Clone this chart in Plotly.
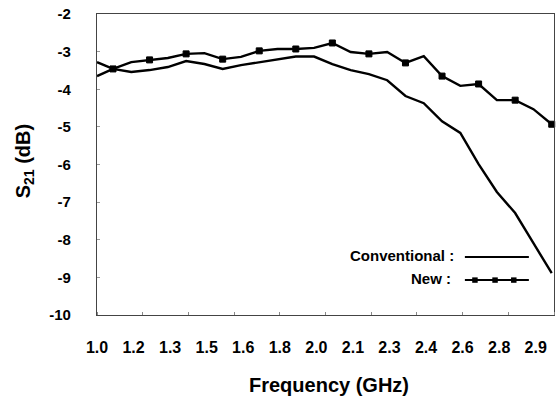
import plotly.graph_objects as go

# ---- data ----
freq = [1.00, 1.07, 1.15, 1.23, 1.31, 1.39, 1.47, 1.55, 1.63, 1.71, 1.79, 1.87, 1.95,
        2.03, 2.11, 2.19, 2.27, 2.35, 2.43, 2.51, 2.59, 2.67, 2.75, 2.83, 2.91, 2.99]
conventional = [-3.28, -3.46, -3.54, -3.49, -3.41, -3.25, -3.33, -3.46, -3.36, -3.28,
                -3.20, -3.13, -3.13, -3.33, -3.49, -3.60, -3.76, -4.18, -4.37, -4.85,
                -5.16, -5.99, -6.73, -7.29, -8.09, -8.89]
new = [-3.65, -3.46, -3.28, -3.22, -3.17, -3.06, -3.04, -3.20, -3.14, -2.98,
       -2.93, -2.93, -2.90, -2.77, -3.01, -3.06, -3.01, -3.30, -3.12, -3.65,
       -3.91, -3.86, -4.29, -4.29, -4.53, -4.93]
# markers drawn on every other sample of the "New" curve
new_marker_size = [0 if i % 2 == 0 else 6 for i in range(len(freq))]
new_marker_line = [0 if i % 2 == 0 else 1 for i in range(len(freq))]

x_tickvals = [1.00, 1.16, 1.32, 1.48, 1.64, 1.80, 1.96, 2.12, 2.28, 2.44, 2.60, 2.76, 2.92]
x_ticktext = ["1.0", "1.2", "1.3", "1.5", "1.6", "1.8", "2.0", "2.1", "2.3", "2.4", "2.6", "2.8", "2.9"]
y_tickvals = [-2, -3, -4, -5, -6, -7, -8, -9, -10]
y_ticktext = ["-2", "-3", "-4", "-5", "-6", "-7", "-8", "-9", "-10"]

FONT = "Liberation Sans"

fig = go.Figure()
fig.add_trace(go.Scatter(x=freq, y=conventional, mode="lines",
                         line=dict(color="black", width=2.4), showlegend=False))
fig.add_trace(go.Scatter(x=freq, y=new, mode="lines+markers",
                         line=dict(color="black", width=2.4),
                         marker=dict(symbol="square", size=new_marker_size, color="black",
                                     opacity=1,
                                     line=dict(width=new_marker_line, color="black")),
                         showlegend=False, cliponaxis=False))

fig.update_layout(
    width=556, height=405,
    margin=dict(l=97, r=2, t=14, b=90),
    paper_bgcolor="white", plot_bgcolor="white",
    font=dict(family=FONT, color="black"),
)
fig.update_xaxes(
    range=[1.0, 3.0], tickmode="array", tickvals=x_tickvals, ticktext=x_ticktext,
    ticks="", showgrid=False, zeroline=False,
    showline=True, linecolor="#444", linewidth=1.2, mirror=True,
    tickfont=dict(family=FONT, size=16, color="black", weight="bold"),
    ticklabelstandoff=18,
    minor=dict(tickmode="linear", tick0=1.0, dtick=0.2, ticks="inside", ticklen=3,
               tickcolor="#888", showgrid=False),
)
fig.update_yaxes(
    range=[-10, -2], tickmode="array", tickvals=y_tickvals, ticktext=y_ticktext,
    ticks="inside", ticklen=3, tickcolor="#999", showgrid=False, zeroline=False,
    showline=True, linecolor="#444", linewidth=1.2, mirror=True,
    tickfont=dict(family=FONT, size=15, color="black", weight="bold"),
    ticklabelstandoff=22,
)

# axis titles
fig.add_annotation(text="<b>S<sub>21</sub> (dB)</b>", xref="paper", yref="paper",
                   x=-0.158, y=0.51, textangle=-90, showarrow=False,
                   font=dict(family=FONT, size=20, color="black"),
                   xanchor="center", yanchor="middle")
fig.add_annotation(text="<b>Frequency (GHz)</b>", xref="paper", yref="paper",
                   x=0.508, y=-0.233, showarrow=False,
                   font=dict(family=FONT, size=20, color="black"),
                   xanchor="center", yanchor="middle")

# custom legend (text left, sample right)
fig.add_annotation(text="<b>Conventional :</b>", xref="paper", yref="paper",
                   x=0.785, y=0.199, xanchor="right", yanchor="middle", showarrow=False,
                   font=dict(family=FONT, size=15, color="black"))
fig.add_annotation(text="<b>New :</b>", xref="paper", yref="paper",
                   x=0.779, y=0.120, xanchor="right", yanchor="middle", showarrow=False,
                   font=dict(family=FONT, size=15, color="black"))
fig.add_shape(type="line", xref="paper", yref="paper", x0=0.805, x1=0.945,
              y0=0.193, y1=0.193, line=dict(color="black", width=2))
fig.add_shape(type="line", xref="paper", yref="paper", x0=0.805, x1=0.945,
              y0=0.116, y1=0.116, line=dict(color="black", width=2))
for mx in [0.827, 0.871, 0.912]:
    fig.add_shape(type="rect", xref="paper", yref="paper",
                  x0=mx - 0.006, x1=mx + 0.006, y0=0.116 - 0.009, y1=0.116 + 0.009,
                  fillcolor="black", line=dict(width=0))

fig.write_html("out.html", config={"displayModeBar": False},
               post_script="document.body.style.margin='0';document.body.style.padding='0';")
